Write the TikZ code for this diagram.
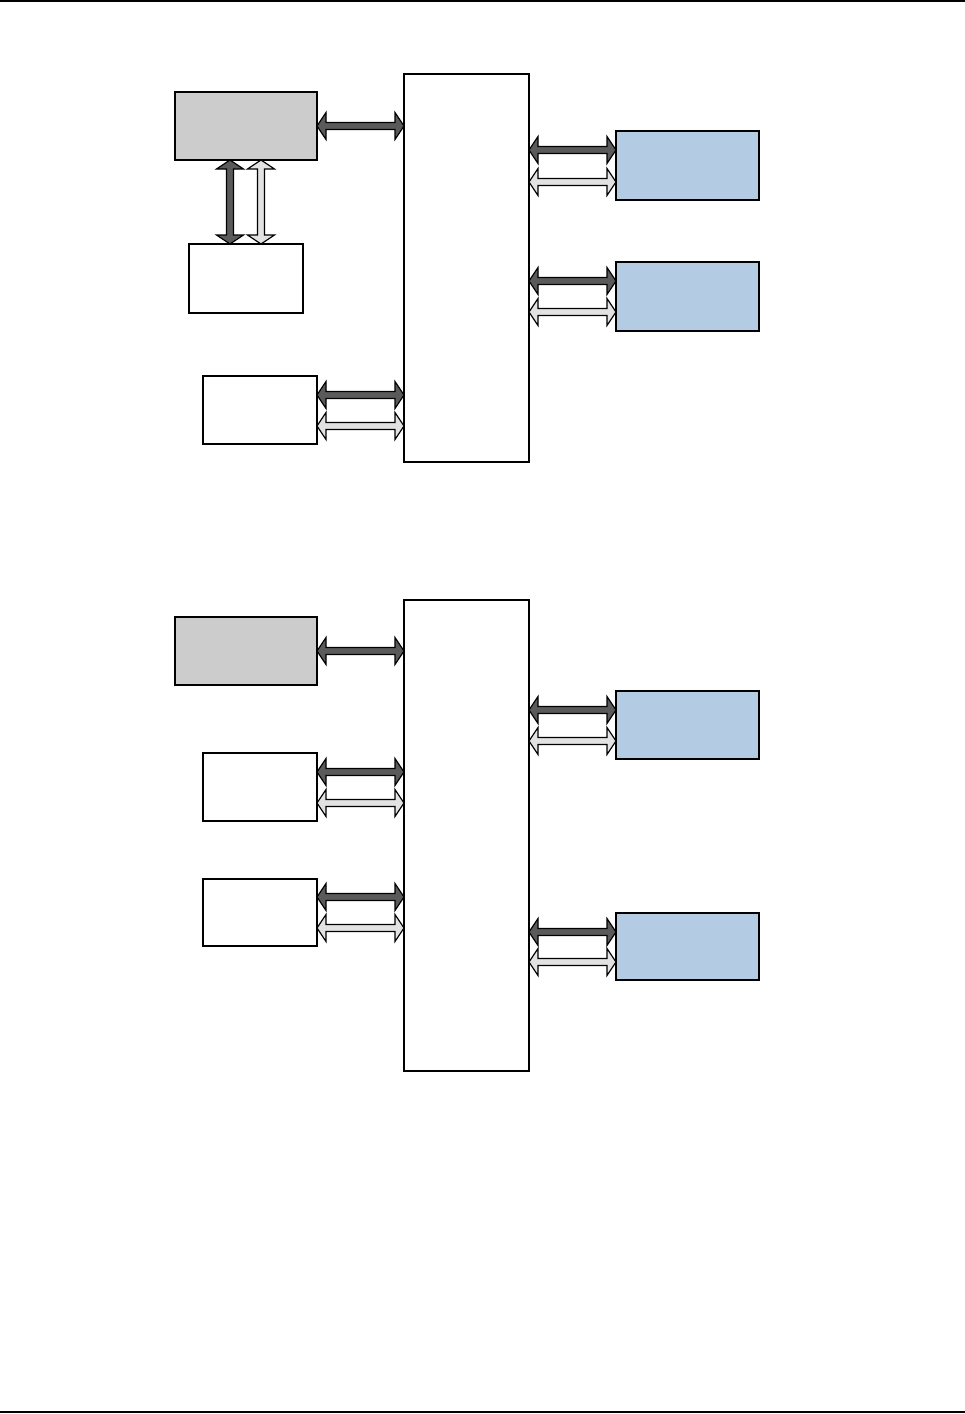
\documentclass[tikz,border=0pt]{standalone}
\usepackage{xcolor}
\usepackage{tikz}
\usetikzlibrary{calc}

\definecolor{boxgray}{HTML}{CCCCCC}
\definecolor{boxblue}{HTML}{B3CCE4}
\definecolor{busdark}{HTML}{5A5A5A}
\definecolor{buslight}{HTML}{E2E2E2}

\tikzset{
  blk/.style={draw, line width=2pt, inner sep=0pt, outer sep=0pt, anchor=north west},
  busline/.style={draw=black, line width=1.2pt, line join=miter}
}

% fat double headed bus arrow between two points
\newcommand{\headlen}{9pt}
\newcommand{\headwd}{13.5pt}
\newcommand{\shaftwd}{3.5pt}
\newcommand{\busarrow}[3]{%
  \path (#1) coordinate (ba) (#2) coordinate (bb);
  \coordinate (bp) at ($(ba)!\headlen!(bb)$);
  \coordinate (bq) at ($(bb)!\headlen!(ba)$);
  \draw[busline, fill=#3] (ba) -- ($(bp)!\headwd!90:(bb)$) -- ($(bp)!\shaftwd!90:(bb)$)
    -- ($(bq)!\shaftwd!90:(bb)$) -- ($(bq)!\headwd!90:(bb)$) -- (bb)
    -- ($(bq)!\headwd!-90:(bb)$) -- ($(bq)!\shaftwd!-90:(bb)$)
    -- ($(bp)!\shaftwd!-90:(bb)$) -- ($(bp)!\headwd!-90:(bb)$) -- cycle;
}

\begin{document}
\begin{tikzpicture}[x=1pt, y=-1pt]
\useasboundingbox (0,0) rectangle (965,1414);
% page rules
\draw[line width=1.5pt] (0,1) -- (965,1);
\draw[line width=1.5pt] (0,1412) -- (965,1412);

% upper diagram
\node[blk, fill=boxgray, minimum width=142pt, minimum height=68pt] (cpuA) at (175,92) {};
\node[blk, minimum width=114pt, minimum height=69pt] (memA) at (189,244) {};
\node[blk, minimum width=114pt, minimum height=68pt] (ioA) at (203,376) {};
\node[blk, minimum width=125pt, minimum height=388pt] (hubA) at (404,74) {};
\node[blk, fill=boxblue, minimum width=143pt, minimum height=69pt] (devA) at (616,131) {};
\node[blk, fill=boxblue, minimum width=143pt, minimum height=69pt] (devB) at (616,262) {};

\busarrow{cpuA.east |- 0,126}{hubA.west |- 0,126}{busdark}
\busarrow{230,160}{230,244}{busdark}
\busarrow{261,160}{261,244}{buslight}
\busarrow{hubA.east |- 0,150}{devA.west |- 0,150}{busdark}
\busarrow{hubA.east |- 0,182}{devA.west |- 0,182}{buslight}
\busarrow{hubA.east |- 0,281}{devB.west |- 0,281}{busdark}
\busarrow{hubA.east |- 0,312}{devB.west |- 0,312}{buslight}
\busarrow{ioA.east |- 0,395}{hubA.west |- 0,395}{busdark}
\busarrow{ioA.east |- 0,426}{hubA.west |- 0,426}{buslight}

% lower diagram
\node[blk, fill=boxgray, minimum width=142pt, minimum height=68pt] (cpuB) at (175,617) {};
\node[blk, minimum width=114pt, minimum height=68pt] (ioB) at (203,753) {};
\node[blk, minimum width=114pt, minimum height=67pt] (ioC) at (203,879) {};
\node[blk, minimum width=125pt, minimum height=471pt] (hubB) at (404,600) {};
\node[blk, fill=boxblue, minimum width=143pt, minimum height=68pt] (devC) at (616,691) {};
\node[blk, fill=boxblue, minimum width=143pt, minimum height=67pt] (devD) at (616,913) {};

\busarrow{cpuB.east |- 0,651}{hubB.west |- 0,651}{busdark}
\busarrow{ioB.east |- 0,772}{hubB.west |- 0,772}{busdark}
\busarrow{ioB.east |- 0,803}{hubB.west |- 0,803}{buslight}
\busarrow{ioC.east |- 0,897}{hubB.west |- 0,897}{busdark}
\busarrow{ioC.east |- 0,928}{hubB.west |- 0,928}{buslight}
\busarrow{hubB.east |- 0,710}{devC.west |- 0,710}{busdark}
\busarrow{hubB.east |- 0,741}{devC.west |- 0,741}{buslight}
\busarrow{hubB.east |- 0,932}{devD.west |- 0,932}{busdark}
\busarrow{hubB.east |- 0,962}{devD.west |- 0,962}{buslight}
\end{tikzpicture}
\end{document}
